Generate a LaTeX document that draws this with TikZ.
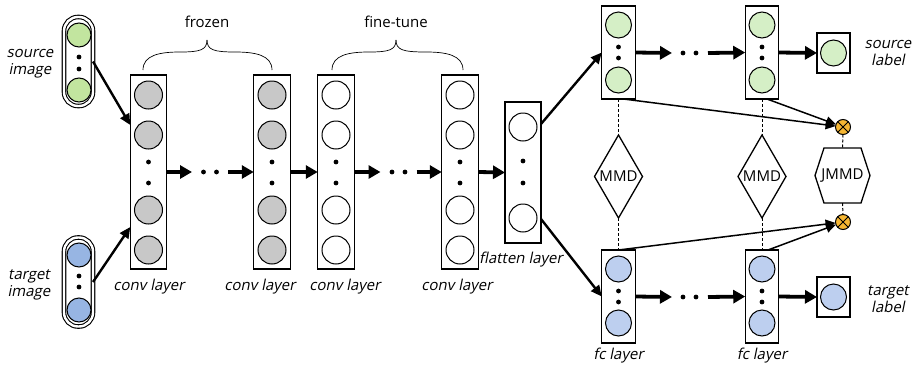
\documentclass[tikz,border=0pt]{standalone}
\usepackage{fontspec}
\setmainfont{Open Sans}
\newfontfamily\oblfont[FakeSlant=0.2]{Open Sans}
\usetikzlibrary{arrows.meta,shapes.geometric,calc}
\definecolor{cgray}{HTML}{C8C8C8}
\definecolor{srcgreen}{HTML}{C2E59F}
\definecolor{fcgreen}{HTML}{D5EFC6}
\definecolor{tgtblue}{HTML}{97B5E3}
\definecolor{fcblue}{HTML}{BDCFEF}
\definecolor{corange}{HTML}{F6B733}
\begin{document}
\begin{tikzpicture}[x=1pt,y=-1pt,
  every node/.style={inner sep=0pt, outer sep=0pt},
  font=\fontsize{15}{17}\selectfont,
  layerbox/.style={draw, line width=1.3pt, rectangle},
  neuron/.style={circle, draw, line width=1pt, minimum size=28pt},
  fcneuron/.style={circle, draw, line width=1pt, minimum size=26pt},
  inneuron/.style={circle, draw, line width=1pt, minimum size=24pt},
  dotn/.style={circle, fill=black, minimum size=4.8pt},
  ellip/.style={minimum width=36pt, minimum height=6pt},
  capsule/.style={draw, line width=1.1pt, double, double distance=2.4pt, rounded corners=14pt, minimum width=29pt, minimum height=89pt},
  bigarrow/.style={line width=3.8pt, -{Triangle[length=12pt,width=13pt]}},
  midarrow/.style={line width=2.4pt, -{Triangle[length=11pt,width=10pt]}},
  thinarrow/.style={line width=1.5pt, -{Triangle[length=10pt,width=9pt]}},
  dline/.style={line width=1pt, dash pattern=on 3pt off 2pt},
  lbl/.style={font=\oblfont\fontsize{15}{17}\selectfont, align=center},
  bracepath/.style={line width=0.7pt}
]
\useasboundingbox (0,0) rectangle (914,370);

% input capsules
\node[capsule] (src) at (78.5,61.5) {};
\node[inneuron, fill=srcgreen] (src-a) at (79,35) {};
\node[inneuron, fill=srcgreen] (src-b) at (79,90) {};
\node[dotn] (src-p) at (79,57) {};
\node[dotn] (src-q) at (79,69) {};
\node[capsule] (tgt) at (78.5,282) {};
\node[inneuron, fill=tgtblue] (tgt-a) at (79,255) {};
\node[inneuron, fill=tgtblue] (tgt-b) at (79,310) {};
\node[dotn] (tgt-p) at (79,276) {};
\node[dotn] (tgt-q) at (79,287) {};
\node[lbl] (srclbl) at (30,64) {source\\image};
\node[lbl] (tgtlbl) at (29,285) {target\\image};

% conv layers
\foreach \n/\x/\c in {c1/148.5/cgray, c2/272/cgray, c3/336/white, c4/460/white}{
  \node[layerbox, minimum width=36.5pt, minimum height=194pt] (\n) at (\x,172) {};
  \node[neuron, fill=\c] (\n-a) at (\x,95) {};
  \node[neuron, fill=\c] (\n-b) at (\x,135) {};
  \node[neuron, fill=\c] (\n-c) at (\x,210) {};
  \node[neuron, fill=\c] (\n-d) at (\x,250) {};
  \node[dotn] (\n-p) at (\x,162) {};
  \node[dotn] (\n-q) at (\x,183) {};
}
\node[lbl] (c1l) at (149,287) {conv layer};
\node[lbl] (c2l) at (260,287) {conv layer};
\node[lbl] (c3l) at (345,287) {conv layer};
\node[lbl] (c4l) at (457,287) {conv layer};

% flatten
\node[layerbox, minimum width=36pt, minimum height=141pt] (fl) at (523,172.5) {};
\node[neuron, fill=white] (fl-a) at (523,127) {};
\node[neuron, fill=white] (fl-b) at (523,218) {};
\node[dotn] (fl-p) at (523,161) {};
\node[dotn] (fl-q) at (523,183) {};
\node[lbl] (fll) at (521,260) {flatten layer};

% ellipses
\node[ellip] (e1) at (210,172) {};
\node[dotn] (e1-p) at (203.5,172) {};
\node[dotn] (e1-q) at (216.5,172) {};
\node[ellip] (e2) at (398.5,172) {};
\node[dotn] (e2-p) at (392,172) {};
\node[dotn] (e2-q) at (405,172) {};

% braces
\draw[bracepath] (143,70) .. controls (143,55) and (160,52) .. (180,52) .. controls (200,52) and (207,50) .. (207,40);
\draw[bracepath] (272,70) .. controls (272,55) and (255,52) .. (235,52) .. controls (214,52) and (207,50) .. (207,40);
\draw[bracepath] (332,70) .. controls (332,55) and (349,52) .. (369,52) .. controls (389,52) and (396,50) .. (396,40);
\draw[bracepath] (463,70) .. controls (463,55) and (446,52) .. (426,52) .. controls (403,52) and (396,50) .. (396,40);
\node (tfrozen) at (207,22) {frozen};
\node (tfine) at (396,22) {fine-tune};

% fc layers
\foreach \n/\x in {f1/618.5, f2/762}{
  \node[layerbox, minimum width=33.5pt, minimum height=93pt] (\n t) at (\x,52.5) {};
  \node[fcneuron, fill=fcgreen] (\n t-a) at (\x,25) {};
  \node[fcneuron, fill=fcgreen] (\n t-b) at (\x,80) {};
  \node[dotn] (\n t-p) at (\x,47) {};
  \node[dotn] (\n t-q) at (\x,58) {};
  \node[layerbox, minimum width=33.5pt, minimum height=93pt] (\n b) at (\x,296.5) {};
  \node[fcneuron, fill=fcblue] (\n b-a) at (\x,269) {};
  \node[fcneuron, fill=fcblue] (\n b-b) at (\x,323) {};
  \node[dotn] (\n b-p) at (\x,291) {};
  \node[dotn] (\n b-q) at (\x,302) {};
  \node[lbl] (\n l) at (\x,356) {fc layer};
}
\node[ellip] (e3) at (690,53) {};
\node[dotn] (e3-p) at (683,53) {};
\node[dotn] (e3-q) at (696,53) {};
\node[ellip] (e4) at (690,297) {};
\node[dotn] (e4-p) at (683,297) {};
\node[dotn] (e4-q) at (696,297) {};

% label boxes
\node[layerbox, minimum width=33pt, minimum height=40pt] (sl) at (833.5,53) {};
\node[fcneuron, fill=fcgreen] (sl-c) at (833.5,53) {};
\node[layerbox, minimum width=33pt, minimum height=40pt] (tl) at (833.5,297) {};
\node[fcneuron, fill=fcblue] (tl-c) at (833.5,297) {};
\node[lbl] (sll) at (888,53) {source\\label};
\node[lbl] (tll) at (888,299) {target\\label};

% MMD diamonds
\node[diamond, draw, line width=1.3pt, minimum width=48pt, minimum height=83pt] (m1) at (618.5,176.5) {};
\node (m1t) at (618.5,176.5) {MMD};
\node[diamond, draw, line width=1.3pt, minimum width=48pt, minimum height=83pt] (m2) at (762,176.5) {};
\node (m2t) at (762,176.5) {MMD};

% JMMD hexagon
\node[minimum width=55pt, minimum height=55pt] (jm) at (842.5,175.5) {JMMD};
\draw[line width=1.3pt] (jm.west) -- ($(jm.north west)+(9,0)$) -- ($(jm.north east)+(-9,0)$) -- (jm.east) -- ($(jm.south east)+(-9,0)$) -- ($(jm.south west)+(9,0)$) -- cycle;

% otimes
\node[circle, draw, line width=1pt, fill=corange, minimum size=15pt] (o1) at (843,127) {};
\draw[line width=0.9pt] (o1.north west) -- (o1.south east) (o1.north east) -- (o1.south west);
\node[circle, draw, line width=1pt, fill=corange, minimum size=15pt] (o2) at (843,222) {};
\draw[line width=0.9pt] (o2.north west) -- (o2.south east) (o2.north east) -- (o2.south west);

% dashed lines
\draw[dline] (f1t.south) -- (m1.north);
\draw[dline] (m1.south) -- (f1b.north);
\draw[dline] (f2t.south) -- (m2.north);
\draw[dline] (m2.south) -- (f2b.north);
\draw[dline] (o1.south) -- (jm.north);
\draw[dline] (jm.south) -- (o2.north);

% arrows
\draw[midarrow] (src.east) -- ($(c1.north west)+(0,50)$);
\draw[midarrow] (tgt.east) -- ($(c1.north west)+(0,152)$);
\draw[bigarrow] (c1.east) -- (e1.west);
\draw[bigarrow] (e1.east) -- (c2.west);
\draw[bigarrow] (c2.east) -- (c3.west);
\draw[bigarrow] (c3.east) -- (e2.west);
\draw[bigarrow] (e2.east) -- (c4.west);
\draw[bigarrow] (c4.east) -- (fl.west);
\draw[midarrow] ($(fl.north east)+(0,22)$) -- (f1t.west);
\draw[midarrow] ($(fl.south east)+(0,-24)$) -- (f1b.west);
\draw[bigarrow] (f1t.east) -- (e3.west);
\draw[bigarrow] (e3.east) -- (f2t.west);
\draw[bigarrow] (f2t.east) -- (sl.west);
\draw[bigarrow] (f1b.east) -- (e4.west);
\draw[bigarrow] (e4.east) -- (f2b.west);
\draw[bigarrow] (f2b.east) -- (tl.west);
\draw[thinarrow] ($(f1t.south)+(5,0)$) -- (o1);
\draw[thinarrow] ($(f2t.south)+(5,0)$) -- (o1);
\draw[thinarrow] (f1b.north) -- (o2);
\draw[thinarrow] ($(f2b.north)+(6,0)$) -- (o2);
\end{tikzpicture}
\end{document}
